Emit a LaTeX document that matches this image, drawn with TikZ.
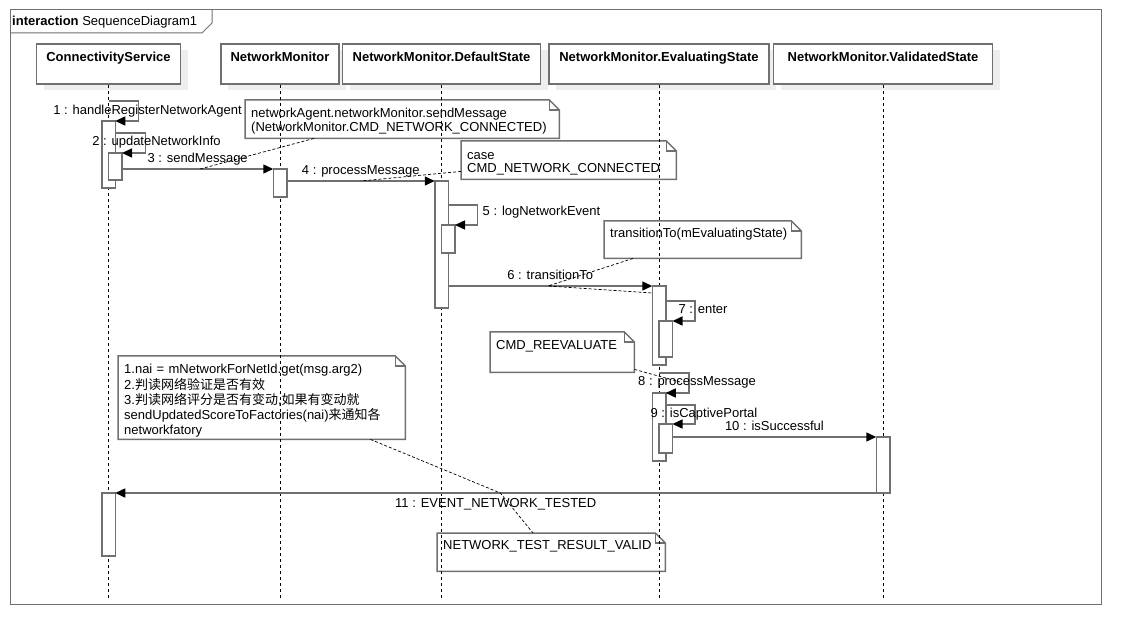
\documentclass[tikz,border=0pt]{standalone}
\usepackage{fontspec}
\setmainfont{Liberation Sans}
\newfontfamily\cjk{Noto Sans CJK SC}
\usetikzlibrary{positioning, arrows.meta, shadows}
\definecolor{umlgray}{RGB}{112,112,112}
\definecolor{shadegray}{RGB}{238,238,238}
\tikzset{
    framebox/.style={draw=umlgray, line width=1pt}, % outer interaction frame
    lifebox/.style={draw=umlgray, fill=white, line width=1.5pt, inner xsep=0pt, inner ysep=0pt,
        text height=18pt, text depth=22pt, font=\fontsize{13}{14}\selectfont\bfseries,
        drop shadow={shadow xshift=7pt, shadow yshift=-6pt, fill=shadegray, draw=none, opacity=1}}, % participant head
    lifeline/.style={draw=black, line width=0.8pt, dash pattern=on 3pt off 3pt}, % dashed life line
    act/.style={draw=umlgray, fill=white, line width=1.5pt, minimum width=13.5pt, inner sep=0pt, outer sep=0pt, anchor=north}, % activation bar
    msg/.style={draw=umlgray, line width=1.5pt, -{Triangle[length=10pt, width=9pt, color=black]}}, % synchronous message
    lbl/.style={inner sep=1pt, text height=9.5pt, text depth=2.7pt}, % message text
    note/.style={anchor=north west, inner xsep=6pt, inner ysep=0pt, align=left}, % note text
    notebox/.style={draw=umlgray, line width=1.5pt}, % note outline
    notelink/.style={draw=black, line width=0.7pt, dash pattern=on 3pt off 2pt}, % note anchor line
}
% outline with the folded corner
\newcommand{\notecorner}[1]{%
    \draw[notebox] (#1.north west) -- ([xshift=-10pt]#1.north east) -- ([yshift=-10pt]#1.north east)
        -- (#1.south east) -- (#1.south west) -- cycle;
    \draw[notebox] ([xshift=-10pt]#1.north east) -- ++(0,10) -- ([yshift=-10pt]#1.north east);
}

\begin{document}
\begin{tikzpicture}[x=1pt, y=-1pt, font=\fontsize{13}{14}\selectfont]
\useasboundingbox (0,0) rectangle (1141,644);
\coordinate (bottom) at (0,598);

% frame
\draw[framebox] (10,10) rectangle (1101,604);
\draw[framebox] (10,33) -- (202,33) -- (212,23) -- (212,10);
\node[anchor=west, inner sep=0pt] (hdr) at (12,22) {\textbf{interaction} SequenceDiagram1};

% notes
\node[note, text width=302, minimum height=38] (nA) at (245,100)
    {\rule{0pt}{13pt}networkAgent.networkMonitor.sendMessage\\(NetworkMonitor.CMD\_NETWORK\_CONNECTED)};
\node[note, text width=203, minimum height=38, font=\fontsize{13}{12.7}\selectfont] (nB) at (461,141)
    {\rule{0pt}{14pt}case\\CMD\_NETWORK\_CONNECTED};
\node[note, text width=185, text height=16.5pt, text depth=20.5pt] (nC) at (604,221)
    {transitionTo(mEvaluatingState)};
\node[note, text width=132, text height=17.5pt, text depth=22.5pt] (nD) at (490,332)
    {CMD\_REEVALUATE};
\node[note, text width=275, minimum height=83, font=\fontsize{13}{15.3}\selectfont] (nE) at (118,356)
    {\rule{0pt}{16pt}1.nai = mNetworkForNetId.get(msg.arg2)\\
     2.{\cjk 判读网络验证是否有效}\\
     3.{\cjk 判读网络评分是否有变动},{\cjk 如果有变动就}\\
     sendUpdatedScoreToFactories(nai){\cjk 来通知各}\\
     networkfatory};
\node[note, text width=216, text height=16.5pt, text depth=21.5pt] (nF) at (437,533)
    {NETWORK\_TEST\_RESULT\_VALID};
\foreach \n in {nA,nB,nC,nD,nE,nF} {\notecorner{\n}}

% participants
\node[lifebox, minimum width=144] (cs) at (108.5,64) {ConnectivityService};
\node[lifebox, minimum width=118] (nm) at (280,64) {NetworkMonitor};
\node[lifebox, minimum width=198, right=2pt of nm] (ds) {NetworkMonitor.DefaultState};
\node[lifebox, minimum width=220, right=7pt of ds] (es) {NetworkMonitor.EvaluatingState};
\node[lifebox, minimum width=219, right=3pt of es] (vs) {NetworkMonitor.ValidatedState};
\foreach \p in {cs,nm,ds,es,vs}
    \draw[lifeline] (\p.south) -- (\p.south |- bottom);

% activations
\node[act, minimum height=67] (cs1) at (cs.south |- 0,121) {};
\node[act, minimum height=27] (cs2) at (cs1.east |- 0,153) {};
\node[act, minimum height=28] (nm1) at (nm.south |- 0,169) {};
\node[act, minimum height=127] (ds1) at (ds.south |- 0,181) {};
\node[act, minimum height=28] (ds2) at (ds1.east |- 0,225) {};
\node[act, minimum height=79] (es1) at (es.south |- 0,286) {};
\node[act, minimum height=36] (es2) at (es1.east |- 0,321) {};
\node[act, minimum height=68] (es3) at (es.south |- 0,393) {};
\node[act, minimum height=29] (es4) at (es3.east |- 0,424) {};
\node[act, minimum height=56] (vs1) at (vs.south |- 0,437) {};
\node[act, minimum height=63] (cs3) at (cs.south |- 0,493) {};

% messages
\draw[msg] ([yshift=20pt]cs1.north) -- ++(30,0) |- (cs1.north east);
\draw[msg] ([yshift=-12pt]cs1.north east) -- ++(30,0) |- (cs2.north east);
\draw[msg] (cs2.east |- nm1.north) -- coordinate[pos=0.517] (m3)
    node[lbl, above=2pt] (t3) {3 : sendMessage} (nm1.north west);
\draw[msg] (nm1.east |- ds1.north) -- coordinate[pos=0.5] (m4)
    node[lbl, above=2pt] (t4) {4 : processMessage} (ds1.north west);
\draw[msg] ([yshift=-24pt]ds1.north east) -- ++(29,0) |- (ds2.north east);
\draw[msg] (ds1.east |- es1.north) -- coordinate[pos=0.489] (m6)
    node[lbl, above=2pt] (t6) {6 : transitionTo} (es1.north west);
\draw[msg] ([yshift=-15pt]es1.north east) -- ++(29,0) |- (es2.north east);
\draw[msg] ([yshift=20pt]es3.north) -- ++(30,0) |- (es3.north east);
\draw[msg] ([yshift=-12pt]es3.north east) -- ++(29,0) |- (es4.north east);
\draw[msg] (es4.east |- vs1.north) -- node[lbl, above=2pt] (t10) {10 : isSuccessful} (vs1.north west);
\draw[msg] (vs1.south west) -- coordinate[pos=0.494] (m11)
    node[lbl, below=3pt] (t11) {11 : EVENT\_NETWORK\_TESTED} (cs3.north east);

% self message texts
\node[lbl] (t1) at (147.5,111) {1 : handleRegisterNetworkAgent};
\node[lbl] (t2) at (156.5,142.5) {2 : updateNetworkInfo};
\node[lbl] (t5) at (541.5,212) {5 : logNetworkEvent};
\node[lbl] (t7) at (703,310) {7 : enter};
\node[lbl] (t8) at (697,382) {8 : processMessage};
\node[lbl] (t9) at (704,414) {9 : isCaptivePortal};

% note anchors
\draw[notelink] ([xshift=69pt]nA.south west) -- (m3);
\draw[notelink] ([yshift=8pt]nB.south west) -- (m4);
\draw[notelink] ([xshift=29pt]nC.south west) -- (m6) -- ([yshift=-7pt]es1.north west);
\draw[notelink] ([yshift=3pt]nD.south east) -- ([xshift=-17pt]t8.center);
\draw[notelink] ([xshift=-35pt]nE.south east) -- (m11) -- ([xshift=96pt]nF.north west);
\end{tikzpicture}
\end{document}
